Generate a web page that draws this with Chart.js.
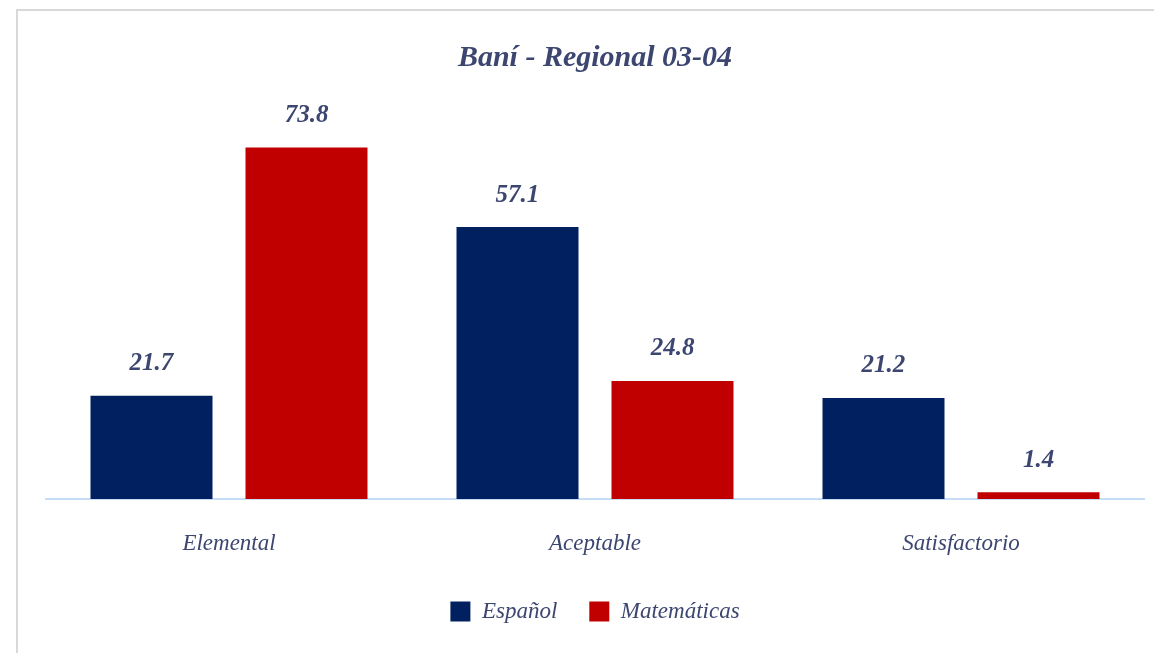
<!DOCTYPE html>
<html>
<head>
<meta charset="utf-8">
<script src="https://cdn.jsdelivr.net/npm/chart.js@4.4.0/dist/chart.umd.min.js"></script>
<style>
  html, body { margin: 0; padding: 0; background: #fff; }
  #wrap { position: relative; width: 1154px; height: 653px; overflow: hidden; }
  #frame {
    position: absolute; left: 16px; top: 9px; width: 1200px; height: 700px;
    border-top: 2px solid #d9d9d9; border-left: 2px solid #d9d9d9;
  }
  canvas { position: absolute; left: 0; top: 0; }
</style>
</head>
<body>
<div id="wrap">
  <div id="frame"></div>
  <canvas id="chart" width="1154" height="653"></canvas>
</div>
<script>
// 分類と系列
const categories = ['Elemental', 'Aceptable', 'Satisfactorio'];
const espanol = [21.7, 57.1, 21.2];
const matematicas = [73.8, 24.8, 1.4];

// 色
const colors = {
    espanol: '#002060',
    matematicas: '#C00000',
    text: '#3c4670',
    axis: '#c5ddf5'
};
const fontFamily = '"Liberation Serif", "DejaVu Serif", serif';

// 棒の上に値を描く
const valueLabels = {
    id: 'valueLabels',
    afterDatasetsDraw(chart) {
        const ctx = chart.ctx;
        ctx.save();
        ctx.font = 'italic bold 25px ' + fontFamily;
        ctx.fillStyle = colors.text;
        ctx.textAlign = 'center';
        ctx.textBaseline = 'middle';
        chart.data.datasets.forEach((ds, i) => {
            chart.getDatasetMeta(i).data.forEach((bar, j) => {
                ctx.fillText(ds.data[j].toFixed(1), bar.x, bar.y - 32);
            });
        });
        ctx.restore();
    }
};

const ctx = document.getElementById('chart').getContext('2d');
new Chart(ctx, {
    type: 'bar',
    data: {
        labels: categories,
        datasets: [
            {
                label: 'Español',
                data: espanol,
                backgroundColor: colors.espanol,
                categoryPercentage: 0.847,
                barPercentage: 0.787
            },
            {
                label: 'Matemáticas',
                data: matematicas,
                backgroundColor: colors.matematicas,
                categoryPercentage: 0.847,
                barPercentage: 0.787
            }
        ]
    },
    options: {
        responsive: false,
        animation: false,
        layout: {
            padding: { top: 10, left: 46, right: 10, bottom: 20 }
        },
        plugins: {
            title: {
                display: true,
                text: 'Baní - Regional 03-04',
                color: colors.text,
                font: { family: fontFamily, size: 30, style: 'italic', weight: 'bold' },
                padding: { top: 30, bottom: 42 }
            },
            legend: {
                position: 'bottom',
                labels: {
                    color: colors.text,
                    font: { family: fontFamily, size: 23, style: 'italic' },
                    boxWidth: 20,
                    boxHeight: 20,
                    padding: 32
                }
            },
            tooltip: { enabled: false }
        },
        scales: {
            x: {
                grid: { display: false },
                border: { color: colors.axis, width: 2 },
                ticks: {
                    color: colors.text,
                    font: { family: fontFamily, size: 23, style: 'italic' },
                    padding: 23
                },
                afterFit(scale) {
                    scale.height = 69;
                }
            },
            y: {
                display: false,
                min: 0,
                max: 80
            }
        }
    },
    plugins: [valueLabels]
});
</script>
</body>
</html>
